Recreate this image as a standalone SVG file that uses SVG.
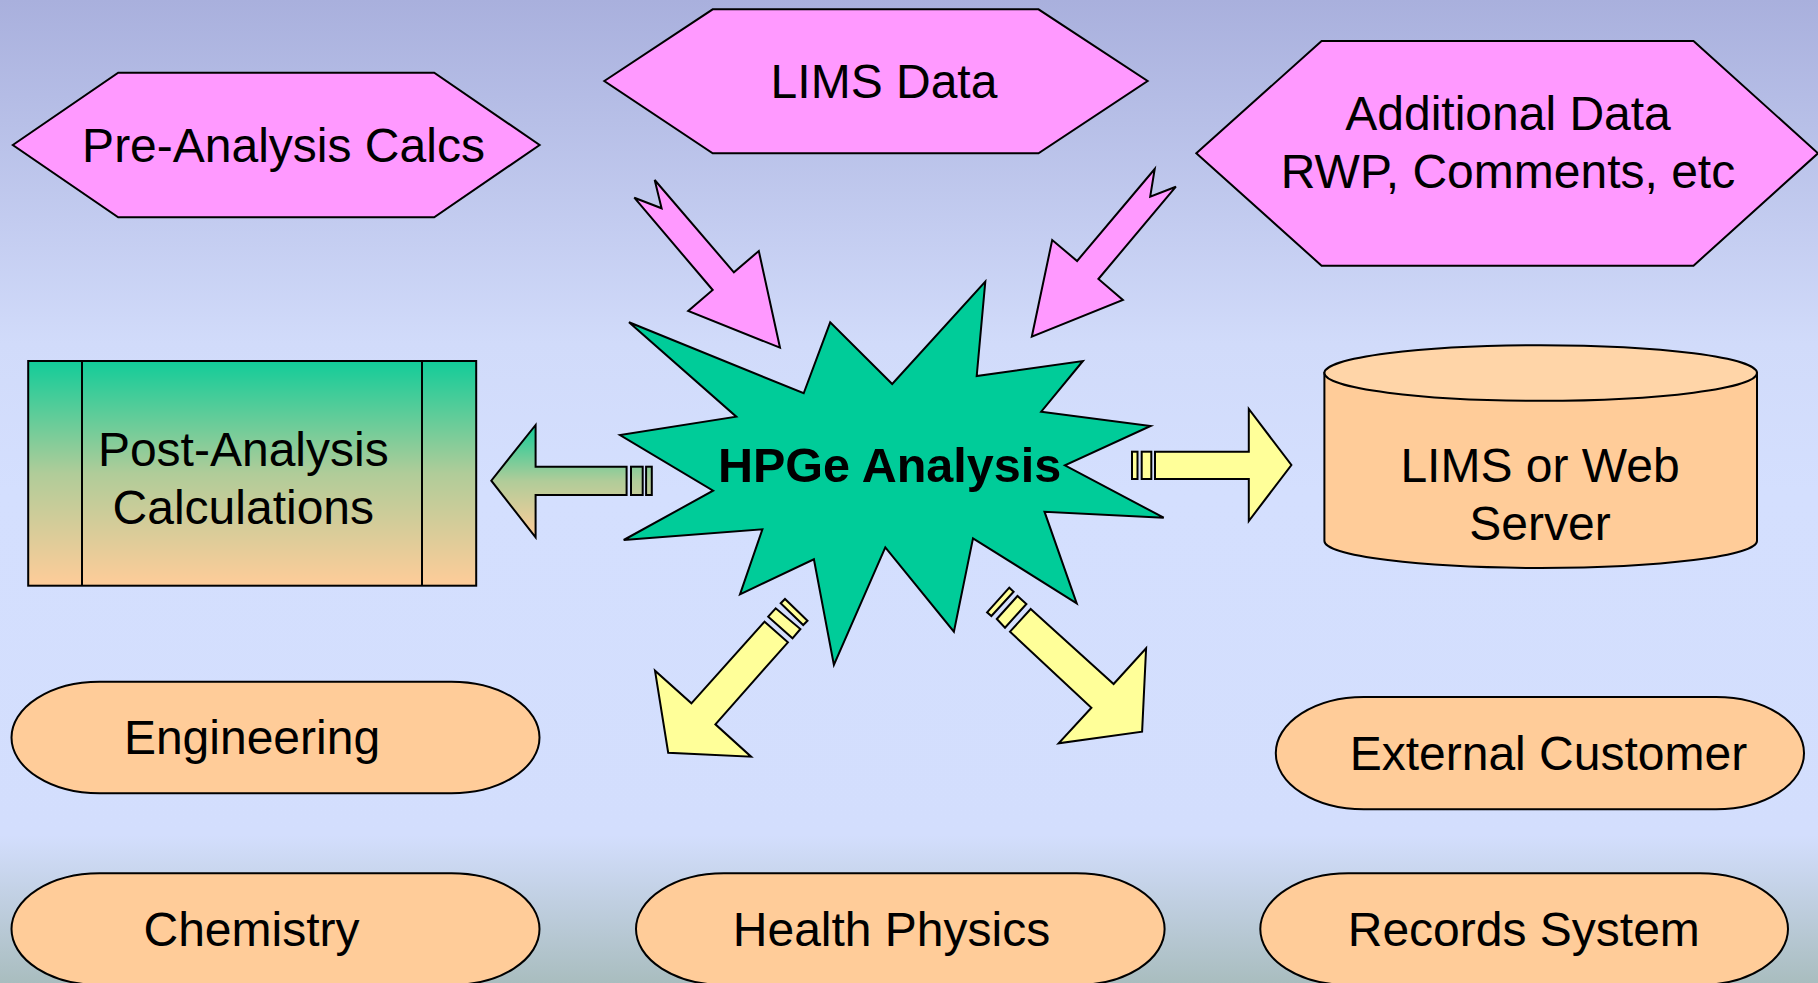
<svg xmlns="http://www.w3.org/2000/svg" width="1818" height="983" viewBox="0 0 1818 983">
<defs>
<linearGradient id="bg" x1="0" y1="0" x2="0" y2="983" gradientUnits="userSpaceOnUse">
<stop offset="0" stop-color="#A9B0DD"/>
<stop offset="0.35" stop-color="#D1DBFA"/>
<stop offset="0.5" stop-color="#D4DFFE"/>
<stop offset="0.85" stop-color="#D3DEFD"/>
<stop offset="1" stop-color="#A9BDBF"/>
</linearGradient>
<linearGradient id="boxg" x1="0" y1="361" x2="0" y2="586" gradientUnits="userSpaceOnUse">
<stop offset="0" stop-color="#12CC99"/>
<stop offset="0.5" stop-color="#B0CC99"/>
<stop offset="1" stop-color="#FFCC99"/>
</linearGradient>
<linearGradient id="arrg" x1="0" y1="425" x2="0" y2="537" gradientUnits="userSpaceOnUse">
<stop offset="0" stop-color="#12CC99"/>
<stop offset="0.5" stop-color="#B0CC99"/>
<stop offset="1" stop-color="#FFCC99"/>
</linearGradient>
<style>
.pink{fill:#FF99FF;stroke:#000;stroke-width:2;stroke-linejoin:miter}
.yel{fill:#FFFF99;stroke:#000;stroke-width:2;stroke-linejoin:miter}
.org{fill:#FFCC99;stroke:#000;stroke-width:2}
.star{fill:#00CC99;stroke:#000;stroke-width:2}
.t{font-family:"Liberation Sans",Arial,sans-serif;font-size:48px;fill:#000;text-anchor:middle}
.b{font-weight:bold;font-size:48.5px}
</style>
</defs>
<rect x="0" y="0" width="1818" height="983" fill="url(#bg)"/>

<g id="connectors">
<polygon class="pink" points="654.7,180 733.9,272.3 758.8,251 780,347.7 688.2,311 712.7,290 634.3,197.7 661.6,208.3"/>
<polygon class="pink" points="1154.7,169 1150.2,196.7 1175.9,186.7 1098.4,279 1122.9,300 1031.8,336.7 1052.2,240 1077.1,261"/>
<g id="arrow-left">
<polygon points="626.6,466.7 535.6,466.7 535.6,425 491.3,480.7 535.6,537.3 535.6,495 626.6,495" fill="url(#arrg)" stroke="#000" stroke-width="2"/>
<rect x="631" y="466.7" width="11.7" height="28.3" fill="url(#arrg)" stroke="#000" stroke-width="2"/>
<rect x="646.1" y="466.7" width="5.7" height="28.3" fill="url(#arrg)" stroke="#000" stroke-width="2"/>
</g>
<g id="arrow-right">
<polygon class="yel" points="1155,451.7 1248.8,451.7 1248.8,409 1291.4,465 1248.8,521 1248.8,479 1155,479"/>
<rect class="yel" x="1141.7" y="451.7" width="9.6" height="27.3"/>
<rect class="yel" x="1132" y="451.7" width="5.5" height="27.3"/>
</g>
<g id="arrow-down-left">
<polygon class="yel" points="764.6,621.7 787.9,642.3 715.4,724.3 751.1,756.7 668.2,752.7 655,670.7 691.4,703.3"/>
<polygon class="yel" points="768.2,616.7 775.7,608.3 800.4,629 792.5,638.3"/>
<polygon class="yel" points="780.7,603.3 785,599 807.5,620.7 803.2,625"/>
</g>
<g id="arrow-down-right">
<polygon class="yel" points="1030.7,609 1113.6,684 1146.1,648.3 1142.1,731.7 1058.6,743.3 1091.4,707.7 1010,631.7"/>
<polygon class="yel" points="996.8,619 1017.5,596 1026.4,604 1005,627.7"/>
<polygon class="yel" points="987.1,612.3 1009.3,587.7 1013.6,591.7 991.4,616"/>
</g>
</g>

<g id="pre-analysis">
<polygon class="pink" points="12.8,145 118.2,72.7 434.2,72.7 539.6,145 434.2,217.3 118.2,217.3"/>
<text class="t" x="283.5" y="162">Pre-Analysis Calcs</text>
</g>

<g id="lims-data">
<polygon class="pink" points="604.3,81 712.7,9.3 1038.5,9.3 1147.6,81 1038.5,153.3 712.7,153.3"/>
<text class="t" x="884" y="97.5">LIMS Data</text>
</g>

<g id="additional-data">
<polygon class="pink" points="1196.3,153.3 1321.6,41 1693.5,41 1818,153.3 1693.5,265.7 1321.6,265.7"/>
<text class="t" x="1508" y="130">Additional Data</text>
<text class="t" x="1508" y="188">RWP, Comments, etc</text>
</g>

<g id="hpge">
<polygon class="star" points="629,322.3 803.7,393.3 830.2,322.3 892.2,384 985.3,281.7 976.7,376 1082.9,361 1041.2,411.7 1150.6,426 1064.9,465.3 1163.7,517.7 1044.5,511.7 1076.7,603.3 973,538.3 953.9,631.7 885.3,547.3 833.9,665 813.9,559.3 740,594.3 762.4,529.3 623.7,540 713.1,490.7 620,435 736.3,416.7"/>
<text class="t b" x="889.6" y="482">HPGe Analysis</text>
</g>

<g id="post-analysis">
<rect x="28.2" y="361" width="448" height="224.7" fill="url(#boxg)" stroke="#000" stroke-width="2"/>
<line x1="82" y1="361" x2="82" y2="585.7" stroke="#000" stroke-width="2"/>
<line x1="422" y1="361" x2="422" y2="585.7" stroke="#000" stroke-width="2"/>
<text class="t" x="243.3" y="466">Post-Analysis</text>
<text class="t" x="243.3" y="524">Calculations</text>
</g>

<g id="lims-server">
<path class="org" d="M1324.4,373 L1324.4,541 A216.3,27 0 0 0 1757,541 L1757,373 Z"/>
<ellipse cx="1540.7" cy="373" rx="216.3" ry="27.8" fill="#FFD5A8" stroke="#000" stroke-width="2"/>
<text class="t" x="1540" y="482">LIMS or Web</text>
<text class="t" x="1540" y="540">Server</text>
</g>

<g id="engineering">
<rect class="org" x="11.5" y="681.7" width="528" height="111.6" rx="88" ry="55.8"/>
<text class="t" x="252" y="753.5">Engineering</text>
</g>

<g id="external-customer">
<rect class="org" x="1275.8" y="697" width="528.2" height="112.3" rx="88" ry="56"/>
<text class="t" x="1548.4" y="770">External Customer</text>
</g>

<g id="chemistry">
<rect class="org" x="11.5" y="873.3" width="528" height="111.6" rx="88" ry="55.8"/>
<text class="t" x="251.5" y="946">Chemistry</text>
</g>

<g id="health-physics">
<rect class="org" x="636" y="873.3" width="528.6" height="111.6" rx="88" ry="55.8"/>
<text class="t" x="891.5" y="945.5">Health Physics</text>
</g>

<g id="records-system">
<rect class="org" x="1260.3" y="873.3" width="527.7" height="111.6" rx="88" ry="55.8"/>
<text class="t" x="1523.8" y="945.5">Records System</text>
</g>
</svg>
